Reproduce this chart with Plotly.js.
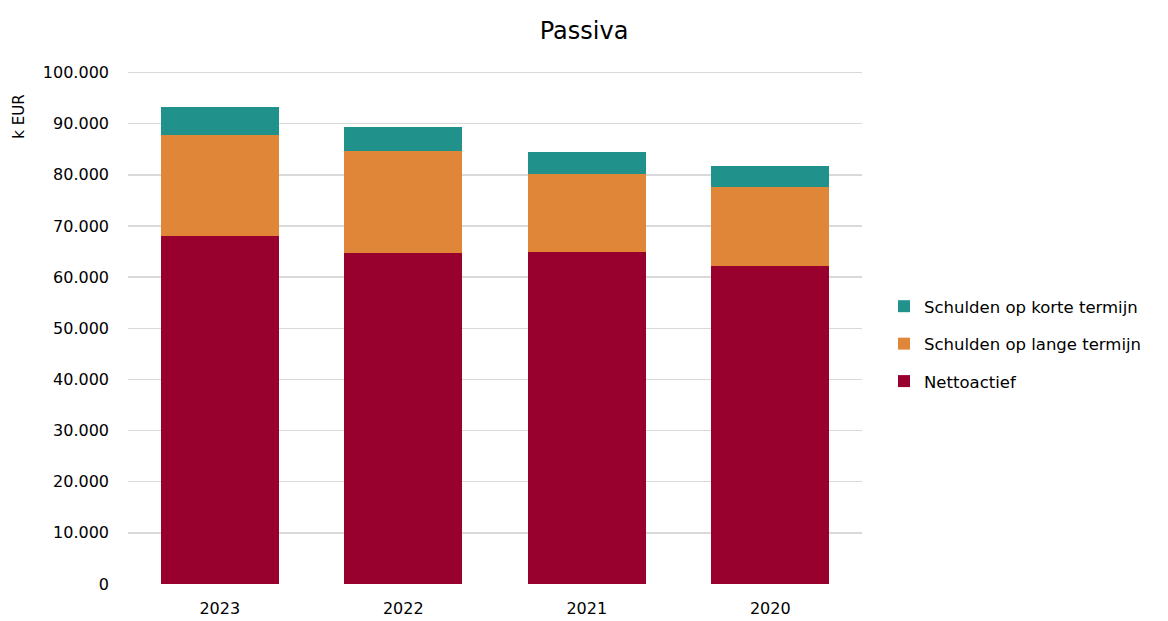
<!DOCTYPE html>
<html>
<head>
<meta charset="utf-8">
<script src="https://cdn.plot.ly/plotly-3.0.1.min.js"></script>
<style>html,body{margin:0;padding:0;background:#fff;}#chart{width:1168px;height:621px;}</style>
</head>
<body>
<div id="chart"></div>
<script>
const years = ["2023", "2022", "2021", "2020"];
const nettoactief = [68100, 64800, 64900, 62200];
const langeTermijn = [19700, 19900, 15200, 15500];
const korteTermijn = [5500, 4600, 4400, 4100];
const tickVals = [0, 10000, 20000, 30000, 40000, 50000, 60000, 70000, 80000, 90000, 100000];

const font = "DejaVu Sans, sans-serif";
const traces = [
  {type: "bar", name: "Nettoactief", legendgroup: "a", legendrank: 3, x: years, y: nettoactief, marker: {color: "#98002E"}},
  {type: "bar", name: "Schulden op lange termijn", legendgroup: "b", legendrank: 2, x: years, y: langeTermijn, marker: {color: "#DF8639"}},
  {type: "bar", name: "Schulden op korte termijn", legendgroup: "c", legendrank: 1, x: years, y: korteTermijn, marker: {color: "#21918C"}}
];
const layout = {
  width: 1168, height: 621,
  margin: {l: 128, r: 306, t: 70, b: 37, autoexpand: false},
  barmode: "stack",
  bargap: 0.357,
  separators: ",.",
  paper_bgcolor: "#fff", plot_bgcolor: "#fff",
  font: {family: font, color: "#000", size: 16},
  title: {text: "Passiva", font: {family: font, size: 24, color: "#000"}, x: 0.5, xanchor: "center", y: 0.95, yanchor: "middle"},
  xaxis: {type: "category", showgrid: false, zeroline: false, showline: false, ticks: "", tickfont: {size: 16}, ticklabelstandoff: 13},
  yaxis: {range: [0, 100500], tickvals: tickVals, tickformat: ",d", showgrid: true, gridcolor: "#d9d9d9", gridwidth: 1.3, zeroline: false, showline: false, ticks: "", ticklen: 0, tickfont: {size: 16}, ticklabelstandoff: 18},
  legend: {x: 1.03, y: 0.574, xanchor: "left", yanchor: "top", traceorder: "grouped", font: {size: 16.5}, itemwidth: 30, tracegroupgap: 13, bgcolor: "rgba(0,0,0,0)"},
  annotations: [{text: "k EUR", xref: "paper", yref: "paper", x: -0.148, y: 0.91, textangle: -90, showarrow: false, font: {size: 15, color: "#000"}, xanchor: "center", yanchor: "middle"}]
};
Plotly.newPlot("chart", traces, layout, {displayModeBar: false, staticPlot: true});
</script>
</body>
</html>
